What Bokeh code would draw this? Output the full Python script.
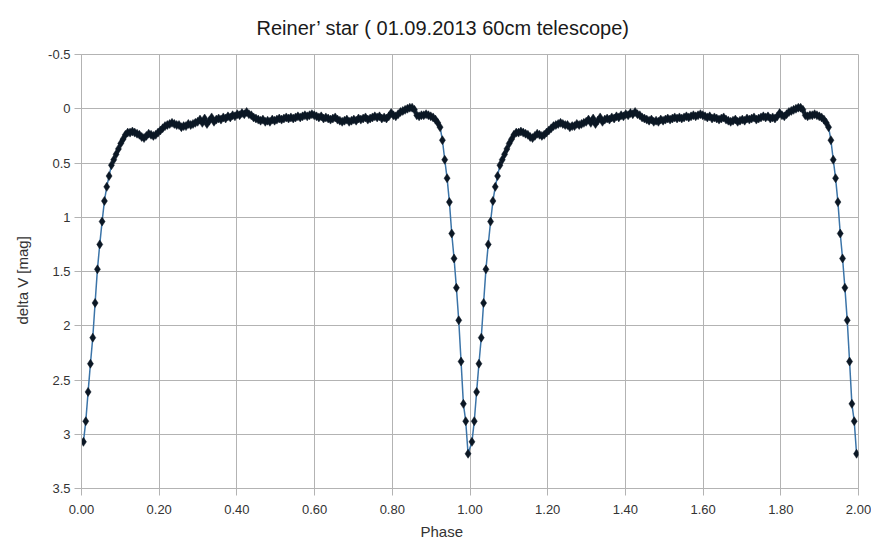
from bokeh.plotting import figure
from bokeh.models import Range1d, FixedTicker, NumeralTickFormatter, Title, ColumnDataSource
from bokeh.embed import file_html
from bokeh.resources import INLINE

# ---- data (one phase cycle) ----
phase = [
    0.005, 0.011, 0.017, 0.023, 0.029, 0.035, 0.041, 0.047, 0.053, 0.059,
    0.065, 0.071, 0.077, 0.083, 0.089, 0.095, 0.101, 0.107, 0.113, 0.119,
    0.125, 0.131, 0.137, 0.143, 0.149, 0.155, 0.161, 0.167, 0.173, 0.179,
    0.185, 0.191, 0.197, 0.203, 0.209, 0.215, 0.221, 0.227, 0.233, 0.239,
    0.245, 0.251, 0.257, 0.263, 0.269, 0.275, 0.281, 0.287, 0.293, 0.299,
    0.305, 0.311, 0.317, 0.323, 0.329, 0.335, 0.341, 0.347, 0.353, 0.359,
    0.365, 0.371, 0.377, 0.383, 0.389, 0.395, 0.401, 0.407, 0.413, 0.419,
    0.425, 0.431, 0.437, 0.443, 0.449, 0.455, 0.461, 0.467, 0.473, 0.479,
    0.485, 0.491, 0.497, 0.503, 0.509, 0.515, 0.521, 0.527, 0.533, 0.539,
    0.545, 0.551, 0.557, 0.563, 0.569, 0.575, 0.581, 0.587, 0.593, 0.599,
    0.605, 0.611, 0.617, 0.623, 0.629, 0.635, 0.641, 0.647, 0.653, 0.659,
    0.665, 0.671, 0.677, 0.683, 0.689, 0.695, 0.701, 0.707, 0.713, 0.719,
    0.725, 0.731, 0.737, 0.743, 0.749, 0.755, 0.761, 0.767, 0.773, 0.779,
    0.785, 0.791, 0.797, 0.803, 0.809, 0.815, 0.821, 0.827, 0.833, 0.839,
    0.845, 0.851, 0.857, 0.863, 0.869, 0.875, 0.881, 0.887, 0.893, 0.899,
    0.905, 0.911, 0.917, 0.923, 0.929, 0.935, 0.941, 0.947, 0.953, 0.959,
    0.965, 0.971, 0.977, 0.983, 0.989, 0.995,
]

delta_v = [
    3.07, 2.88, 2.61, 2.35, 2.11, 1.79, 1.48, 1.25, 1.04, 0.85,
    0.72, 0.62, 0.52, 0.47, 0.42, 0.37, 0.32, 0.28, 0.24, 0.22,
    0.22, 0.21, 0.22, 0.23, 0.24, 0.26, 0.27, 0.25, 0.23, 0.24,
    0.25, 0.24, 0.22, 0.20, 0.18, 0.16, 0.15, 0.14, 0.13, 0.14,
    0.15, 0.15, 0.17, 0.16, 0.16, 0.14, 0.15, 0.14, 0.13, 0.12,
    0.10, 0.13, 0.09, 0.14, 0.11, 0.08, 0.12, 0.10, 0.09, 0.10,
    0.08, 0.09, 0.07, 0.08, 0.06, 0.07, 0.05, 0.06, 0.04, 0.05,
    0.03, 0.05, 0.06, 0.08, 0.09, 0.10, 0.11, 0.10, 0.12, 0.11,
    0.12, 0.10, 0.11, 0.10, 0.09, 0.10, 0.09, 0.08, 0.09, 0.08,
    0.09, 0.08, 0.07, 0.08, 0.07, 0.06, 0.07, 0.06, 0.05, 0.06,
    0.07, 0.08, 0.07, 0.09, 0.08, 0.09, 0.10, 0.09, 0.08, 0.10,
    0.11, 0.12, 0.11, 0.10, 0.12, 0.11, 0.10, 0.11, 0.09, 0.10,
    0.09, 0.08, 0.10, 0.09, 0.08, 0.07, 0.08, 0.07, 0.09, 0.08,
    0.09, 0.07, 0.04, 0.06, 0.07, 0.05, 0.03, 0.02, 0.01, 0.00,
    -0.01, -0.01, 0.01, 0.06, 0.07, 0.06, 0.06, 0.05, 0.06, 0.07,
    0.08, 0.10, 0.13, 0.17, 0.29, 0.47, 0.64, 0.86, 1.15, 1.38,
    1.65, 1.95, 2.33, 2.72, 2.88, 3.18,
]

x_ticks = [0.0, 0.2, 0.4, 0.6, 0.8, 1.0, 1.2, 1.4, 1.6, 1.8, 2.0]
y_ticks = [-0.5, 0.0, 0.5, 1.0, 1.5, 2.0, 2.5, 3.0, 3.5]
y_tick_labels = ["-0.5", "0", "0.5", "1", "1.5", "2", "2.5", "3", "3.5"]

title_text = "Reiner\u2019 star  ( 01.09.2013 60cm telescope)"
x_label = "Phase"
y_label = "delta V  [mag]"

# the phase diagram shows the same cycle twice (phase 0-1 and 1-2)
ph_all = phase + [p + 1.0 for p in phase]
dv_all = delta_v + delta_v
src = ColumnDataSource(dict(x=ph_all, y=dv_all))

GRID = "#b3b3b3"
FONT = "Liberation Sans"

p = figure(width=871, height=544, output_backend="svg", toolbar_location=None,
           x_range=Range1d(0, 2), y_range=Range1d(3.5, -0.5),
           min_border_left=81, min_border_right=13, min_border_top=54, min_border_bottom=56)
p.background_fill_color = "white"
p.border_fill_color = "white"
p.outline_line_color = GRID

p.line("x", "y", source=src, line_color="#3b74a8", line_width=1.5)
p.scatter("x", "y", source=src, marker="diamond", size=9,
          fill_color="#0b1724", line_color="#0b1724", line_width=0.5)

for ax in (p.xaxis[0], p.yaxis[0]):
    ax.axis_line_color = GRID
    ax.major_tick_line_color = GRID
    ax.minor_tick_line_color = None
    ax.major_tick_in = 0
    ax.major_tick_out = 7
    ax.major_label_text_font = FONT
    ax.major_label_text_font_size = "13px"
    ax.major_label_text_color = "#333333"

p.xaxis.ticker = FixedTicker(ticks=x_ticks)
p.xaxis.formatter = NumeralTickFormatter(format="0.00")
p.xaxis.major_label_standoff = 9
p.yaxis.ticker = FixedTicker(ticks=y_ticks)
p.yaxis.major_label_overrides = {t: s for t, s in zip(y_ticks, y_tick_labels)}
p.yaxis.major_label_standoff = 4

p.xgrid.ticker = FixedTicker(ticks=x_ticks)
p.ygrid.ticker = FixedTicker(ticks=y_ticks)
p.grid.grid_line_color = GRID
p.grid.grid_line_width = 1

# chart title (placed like the original, centred on the whole chart)
p.title.text = title_text
p.title.align = "left"
p.title.offset = 175
p.title.vertical_align = "top"
p.title.standoff = 27
p.title.text_font = FONT
p.title.text_font_size = "20px"
p.title.text_font_style = "normal"
p.title.text_color = "#1a1a1a"

# axis titles
p.add_layout(Title(text=x_label, align="left", offset=339, standoff=8, text_font=FONT,
                   text_font_size="15px", text_font_style="normal",
                   text_color="#333333"), "below")
p.add_layout(Title(text=y_label, align="left", offset=164, standoff=26,
                   vertical_align="top", text_font=FONT,
                   text_font_size="15px", text_font_style="normal",
                   text_color="#333333"), "left")

open("out.html", "w").write(file_html(p, INLINE))
